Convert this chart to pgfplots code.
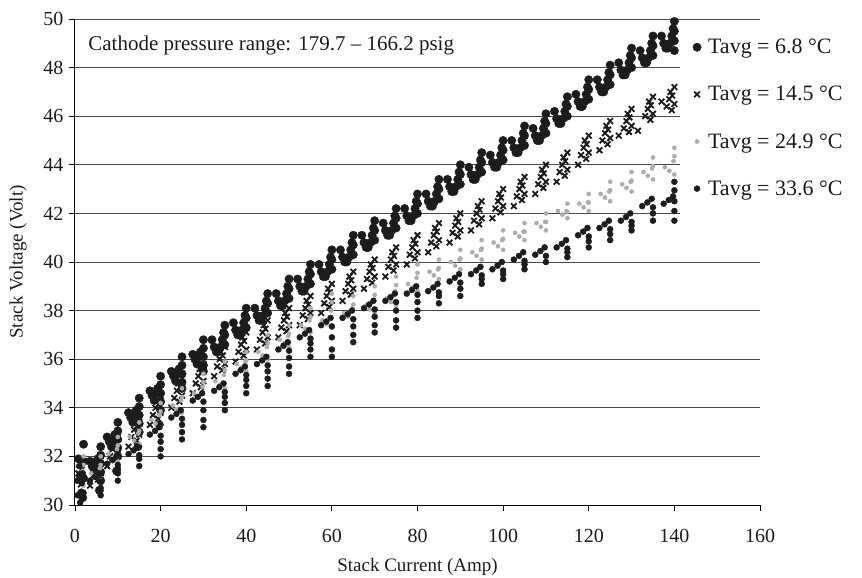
\documentclass[border=0pt]{standalone}
\usepackage{fontspec}
\setmainfont{Liberation Serif}
\usepackage{pgfplots}
\pgfplotsset{compat=1.18}
\definecolor{ink}{HTML}{1C1C1C}
\definecolor{lgray}{HTML}{ADADAD}
\definecolor{gridc}{HTML}{4A4A4A}
\begin{document}
\begin{tikzpicture}
\begin{axis}[
  at={(0,0)}, anchor=south west,
  scale only axis, width=685pt, height=486pt,
  xmin=0, xmax=160, ymin=30, ymax=50,
  xtick={0,20,...,160}, ytick={30,32,...,50},
  axis lines=left, axis line style={-, black, line width=1pt},
  tick align=outside, major tick length=6pt, tick style={black, line width=0.9pt},
  ymajorgrids, grid style={gridc, line width=0.9pt},
  /pgf/number format/assume math mode=true,
  tick label style={font=\fontsize{20}{24}\selectfont, text=ink},
  xticklabel style={yshift=-15pt},
  yticklabel style={xshift=-2pt},
  xlabel={Stack Current (Amp)}, ylabel={Stack Voltage (Volt)},
  every axis x label/.style={at={(axis description cs:0.5,0)}, anchor=center, yshift=-62pt, font=\fontsize{19}{23}\selectfont, text=ink},
  every axis y label/.style={at={(axis description cs:-0.083,0.5)}, anchor=center, rotate=90, font=\fontsize{19}{23}\selectfont, text=ink},
  legend style={at={(0.883,0.998)}, anchor=north west, draw=none, fill=white, inner xsep=6pt, inner ysep=17pt, font=\fontsize{22}{26}\selectfont, row sep=27pt, cells={anchor=west}, text=ink},
  legend image code/.code={\path[draw=none, fill=none] (0pt,-1pt) rectangle (20pt,1pt); \draw[#1] plot coordinates {(11pt,0pt)};},
]
% Tavg = 6.8 C
\addplot[only marks, mark=*, mark size=4.2pt, color=ink] coordinates {
(0.8,31.9)(1.2,31.2)(1.5,30.5)(2,32.5)(2,31.8)(2,31.1)(1.8,30.3)
(3.5,31.8)(4.5,31.4)(5.3,31.9)(6,32.4)(6,31.7)(6,31.0)(5.7,30.6)
(4,31.6)(5,31.7)(6,32.05)(6,31.35)
(7.5,32.8)(8.5,32.4)(9.3,32.9)(10,33.4)(10,32.7)(10,32.0)(9.7,31.4)
(8,32.6)(9,32.7)(10,33.05)(10,32.35)
(12.5,33.8)(13.5,33.4)(14.3,33.9)(15,34.4)(15,33.7)(15,33.0)(14.7,32.4)
(13,33.6)(14,33.7)(15,34.05)(15,33.35)
(17.5,34.7)(18.5,34.3)(19.3,34.8)(20,35.3)(20,34.6)(20,33.9)(19.7,33.3)
(18,34.5)(19,34.6)(20,34.95)(20,34.25)
(22.5,35.5)(23.5,35.1)(24.3,35.6)(25,36.1)(25,35.4)(25,34.8)
(23,35.3)(24,35.4)(25,35.75)(25,35.05)
(27.5,36.2)(28.5,35.8)(29.3,36.3)(30,36.8)(30,36.1)(30,35.5)
(28,36.0)(29,36.1)(30,36.45)(30,35.75)
(32,36.8)(33,36.3)(34,36.5)(34.7,37.1)(35,37.4)(35,36.6)
(32.5,36.5)(33.5,36.3)(34.4,36.8)(35,37.0)
(37,37.5)(38,37.0)(39,37.2)(39.7,37.8)(40,38.1)(40,37.3)
(37.5,37.2)(38.5,37.0)(39.4,37.5)(40,37.7)
(42,38.1)(43,37.6)(44,37.8)(44.7,38.4)(45,38.7)(45,37.9)
(42.5,37.8)(43.5,37.6)(44.4,38.1)(45,38.3)
(47,38.7)(48,38.2)(49,38.4)(49.7,39.0)(50,39.3)(50,38.5)
(47.5,38.4)(48.5,38.2)(49.4,38.7)(50,38.9)
(52,39.3)(53,38.8)(54,39.0)(54.7,39.6)(55,39.9)(55,39.1)
(52.5,39.0)(53.5,38.8)(54.4,39.3)(55,39.5)
(57,39.9)(58,39.4)(59,39.6)(59.7,40.2)(60,40.5)(60,39.7)
(57.5,39.6)(58.5,39.4)(59.4,39.9)(60,40.1)
(62,40.5)(63,40.0)(64,40.2)(64.7,40.8)(65,41.1)(65,40.3)
(62.5,40.2)(63.5,40.0)(64.4,40.5)(65,40.7)
(67,41.1)(68,40.6)(69,40.8)(69.7,41.4)(70,41.7)(70,40.9)
(67.5,40.8)(68.5,40.6)(69.4,41.1)(70,41.3)
(72,41.6)(73,41.1)(74,41.3)(74.7,41.9)(75,42.2)(75,41.4)
(72.5,41.3)(73.5,41.1)(74.4,41.6)(75,41.8)
(77,42.2)(78,41.7)(79,41.9)(79.7,42.5)(80,42.8)(80,42.0)
(77.5,41.9)(78.5,41.7)(79.4,42.2)(80,42.4)
(82,42.8)(83,42.3)(84,42.5)(84.7,43.1)(85,43.4)(85,42.6)
(82.5,42.5)(83.5,42.3)(84.4,42.8)(85,43.0)
(87,43.4)(88,42.9)(89,43.1)(89.7,43.7)(90,44.0)(90,43.2)
(87.5,43.1)(88.5,42.9)(89.4,43.4)(90,43.6)
(92,43.9)(93,43.4)(94,43.6)(94.7,44.2)(95,44.5)(95,43.7)
(92.5,43.6)(93.5,43.4)(94.4,43.9)(95,44.1)
(97,44.4)(98,43.9)(99,44.1)(99.7,44.7)(100,45.0)(100,44.2)
(97.5,44.1)(98.5,43.9)(99.4,44.4)(100,44.6)
(102,45.0)(103,44.5)(104,44.7)(104.7,45.3)(105,45.6)(105,44.8)
(102.5,44.7)(103.5,44.5)(104.4,45.0)(105,45.2)
(107,45.5)(108,45.0)(109,45.2)(109.7,45.8)(110,46.1)(110,45.3)
(107.5,45.2)(108.5,45.0)(109.4,45.5)(110,45.7)
(112,46.2)(113,45.7)(114,45.9)(114.7,46.5)(115,46.8)(115,46.0)
(112.5,45.9)(113.5,45.7)(114.4,46.2)(115,46.4)
(117,46.9)(118,46.4)(119,46.6)(119.7,47.2)(120,47.5)(120,46.7)
(117.5,46.6)(118.5,46.4)(119.4,46.9)(120,47.1)
(122,47.5)(123,47.0)(124,47.2)(124.7,47.8)(125,48.1)(125,47.3)
(122.5,47.2)(123.5,47.0)(124.4,47.5)(125,47.7)
(127,48.2)(128,47.7)(129,47.9)(129.7,48.5)(130,48.8)(130,48.0)
(127.5,47.9)(128.5,47.7)(129.4,48.2)(130,48.4)
(132,48.7)(133,48.2)(134,48.4)(134.7,49.0)(135,49.3)(135,48.5)
(132.5,48.4)(133.5,48.2)(134.4,48.7)(135,48.9)
(137,49.3)(138,48.8)(139,49.0)(139.7,49.6)(140,49.9)(140,49.1)(140,48.7)
(137.5,49.0)(138.5,48.8)(139.4,49.3)(140,49.5)
};
\addlegendentry{Tavg = 6.8 °C}
% Tavg = 14.5 C
\addplot[only marks, mark=x, mark size=4pt, color=ink, mark options={line width=1.8pt}] coordinates {
(2,31.8)(1.5,31.45)(2,31.1)(0.8,31.3)(1.4,30.85)
(6,32.0)(5.5,31.65)(6,31.3)(4.8,31.5)(5.4,31.05)(3.5,30.8)(4.2,31.2)(5.1,31.8)
(10,32.8)(9.5,32.45)(10,32.1)(8.8,32.3)(9.4,31.85)(7.5,31.6)(8.2,32.0)(9.1,32.6)
(15,33.6)(14.5,33.25)(15,32.9)(13.8,33.1)(14.4,32.65)(12.5,32.4)(13.2,32.8)(14.1,33.4)
(20,34.5)(19.5,34.15)(20,33.8)(18.8,34.0)(19.4,33.55)(17.5,33.3)(18.2,33.7)(19.1,34.3)
(25,35.2)(24.5,34.85)(25,34.5)(23.8,34.7)(24.4,34.25)(22.5,34.0)(23.2,34.4)(24.1,35.0)
(30,35.8)(29.5,35.45)(30,35.1)(28.8,35.3)(29.4,34.85)(27.5,34.6)(28.2,35.0)(29.1,35.6)
(35,36.5)(34.5,36.15)(35,35.8)(33.8,36.0)(34.4,35.55)(32.5,35.3)(33.2,35.7)(34.1,36.3)
(40,37.1)(39.5,36.75)(40,36.4)(38.8,36.6)(39.4,36.15)(37.5,35.9)(38.2,36.3)(39.1,36.9)
(45,37.6)(44.5,37.25)(45,36.9)(43.8,37.1)(44.4,36.65)(42.5,36.4)(43.2,36.8)(44.1,37.4)
(50,38.1)(49.5,37.75)(50,37.4)(48.8,37.6)(49.4,37.15)(47.5,36.9)(48.2,37.3)(49.1,37.9)
(55,38.6)(54.5,38.25)(55,37.9)(53.8,38.1)(54.4,37.65)(52.5,37.4)(53.2,37.8)(54.1,38.4)
(60,39.1)(59.5,38.75)(60,38.4)(58.8,38.6)(59.4,38.15)(57.5,37.9)(58.2,38.3)(59.1,38.9)
(65,39.6)(64.5,39.25)(65,38.9)(63.8,39.1)(64.4,38.65)(62.5,38.4)(63.2,38.8)(64.1,39.4)
(70,40.1)(69.5,39.75)(70,39.4)(68.8,39.6)(69.4,39.15)(67.5,38.9)(68.2,39.3)(69.1,39.9)
(75,40.6)(74.5,40.25)(75,39.9)(73.8,40.1)(74.4,39.65)(72.5,39.4)(73.2,39.8)(74.1,40.4)
(80,41.1)(79.5,40.75)(80,40.4)(78.8,40.6)(79.4,40.15)(77.5,39.9)(78.2,40.3)(79.1,40.9)
(85,41.6)(84.5,41.25)(85,40.9)(83.8,41.1)(84.4,40.65)(82.5,40.4)(83.2,40.8)(84.1,41.4)
(90,42.0)(89.5,41.65)(90,41.3)(88.8,41.5)(89.4,41.05)(87.5,40.8)(88.2,41.2)(89.1,41.8)
(95,42.5)(94.5,42.15)(95,41.8)(93.8,42.0)(94.4,41.55)(92.5,41.3)(93.2,41.7)(94.1,42.3)
(100,43.0)(99.5,42.65)(100,42.3)(98.8,42.5)(99.4,42.05)(97.5,41.8)(98.2,42.2)(99.1,42.8)
(105,43.5)(104.5,43.15)(105,42.8)(103.8,43.0)(104.4,42.55)(102.5,42.3)(103.2,42.7)(104.1,43.3)
(110,44.0)(109.5,43.65)(110,43.3)(108.8,43.5)(109.4,43.05)(107.5,42.8)(108.2,43.2)(109.1,43.8)
(115,44.5)(114.5,44.15)(115,43.8)(113.8,44.0)(114.4,43.55)(112.5,43.3)(113.2,43.7)(114.1,44.3)
(120,45.2)(119.5,44.85)(120,44.5)(118.8,44.7)(119.4,44.25)(117.5,44.0)(118.2,44.4)(119.1,45.0)
(125,45.8)(124.5,45.45)(125,45.1)(123.8,45.3)(124.4,44.85)(122.5,44.6)(123.2,45.0)(124.1,45.6)
(130,46.3)(129.5,45.95)(130,45.6)(128.8,45.8)(129.4,45.35)(127,45.2)(128.2,45.5)(129.1,46.1)
(135,46.8)(134.5,46.45)(135,46.1)(133.8,46.3)(134.4,45.85)(131.5,45.4)(133.2,46.0)(134.1,46.6)
(140,47.2)(139.5,46.85)(140,46.5)(138.8,46.7)(139.4,46.25)(137,46.6)(138.2,46.4)(139.1,47.0)
};
\addlegendentry{Tavg = 14.5 °C}
% Tavg = 24.9 C
\addplot[only marks, mark=*, mark size=2.1pt, color=lgray] coordinates {
(2,32.0)(2,31.65)(1.8,31.4)(2,30.8)(1.0,30.95)(0.6,31.6)
(6,32.0)(6,31.65)(5.8,31.5)(6,31.0)(4.8,31.15)(3.8,31.3)
(10,32.8)(10,32.45)(9.8,32.3)(10,31.8)(8.8,31.95)(7.8,32.1)
(15,33.4)(15,33.05)(14.8,32.95)(15,32.5)(13.8,32.65)(12.8,32.8)
(20,34.2)(20,33.85)(19.8,33.7)(20,33.2)(18.8,33.35)(17.8,33.5)
(25,34.8)(25,34.45)(24.8,34.3)(25,33.8)(23.8,33.95)(22.8,34.1)
(30,35.4)(30,35.05)(29.8,34.85)(30,34.3)(28.8,34.45)(27.8,34.6)
(35,35.9)(35,35.55)(34.8,35.35)(35,34.8)(33.8,34.95)(32.8,35.1)
(40,36.3)(40,35.95)(39.8,35.9)(40,35.5)(38.8,35.65)(37.8,35.8)
(45,37.0)(45,36.65)(44.8,36.5)(45,36.0)(43.8,36.15)(42.8,36.3)
(50,37.4)(50,37.05)(49.8,36.95)(50,36.5)(48.8,36.65)(47.8,36.8)
(55,38.1)(55,37.75)(54.8,37.6)(55,37.1)(53.8,37.25)(52.8,37.4)
(60,38.7)(60,38.35)(59.8,38.0)(60,37.3)(58.8,37.45)(57.8,37.6)
(65,38.6)(65,38.25)(64.8,38.1)(65,37.6)(63.8,37.75)(62.8,37.9)
(70,39.0)(70,38.65)(69.8,38.45)(70,37.9)(68.8,38.05)(67.8,38.2)
(75,39.4)(75,39.05)(74.8,38.8)(75,38.2)(73.8,38.35)(72.8,38.5)
(80,39.9)(80,39.55)(79.8,39.35)(80,38.8)(78.8,38.95)(77.8,39.1)
(85,40.1)(85,39.75)(84.8,39.7)(85,39.3)(83.8,39.45)(82.8,39.6)
(90,40.5)(90,40.15)(89.8,40.1)(90,39.7)(88.8,39.85)(87.8,40.0)
(95,40.9)(95,40.55)(94.8,40.5)(95,40.1)(93.8,40.25)(92.8,40.4)
(100,41.3)(100,40.95)(99.8,40.9)(100,40.5)(98.8,40.65)(97.8,40.8)
(105,41.6)(105,41.25)(104.8,41.25)(105,40.9)(103.8,41.05)(102.8,41.2)
(110,42.0)(110,41.65)(109.8,41.65)(110,41.3)(108.8,41.45)(107.8,41.6)
(115,42.4)(115,42.05)(114.8,42.1)(115,41.8)(113.8,41.95)(112.8,42.1)
(120,42.8)(120,42.45)(119.8,42.45)(120,42.1)(118.8,42.25)(117.8,42.4)
(125,43.3)(125,42.95)(124.8,42.9)(125,42.5)(123.8,42.65)(122.8,42.8)
(130,43.7)(130,43.35)(129.8,43.3)(130,42.9)(128.8,43.05)(127.8,43.2)
(135,44.3)(135,43.95)(134.8,43.85)(135,43.4)(133.8,43.55)(132.8,43.7)
(140,44.7)(140,44.35)(139.8,44.15)(140,43.6)(138.8,43.75)(137.8,43.9)
};
\addlegendentry{Tavg = 24.9 °C}
% Tavg = 33.6 C
\addplot[only marks, mark=*, mark size=3pt, color=ink] coordinates {
(0.5,31.0)(1.0,31.6)(1.6,30.9)(2,30.5)(1.2,30.1)(0.6,30.4)(1.8,31.3)
(3.5,31.0)(4.7,31.15)(5.7,31.3)(6,30.95)(6,30.7)(6,30.4)
(7.5,31.7)(8.7,31.85)(9.7,32.0)(10,31.65)(10,31.5)(10,31.3)(10,31.0)
(12.5,32.1)(13.7,32.25)(14.7,32.4)(15,32.05)(15,31.9)(15,31.6)
(17.5,32.9)(18.7,33.05)(19.7,33.2)(20,32.85)(20,32.6)(20,32.3)(20,32.0)
(22.5,33.6)(23.7,33.75)(24.7,33.9)(25,33.55)(25,33.3)(25,33.0)(25,32.7)
(27.5,34.3)(28.7,34.45)(29.7,34.6)(30,34.25)(30,33.9)(30,33.5)(30,33.2)
(32.5,34.7)(33.7,34.85)(34.7,35.0)(35,34.65)(35,34.45)(35,34.2)(35,33.9)
(37.5,35.4)(38.7,35.55)(39.7,35.7)(40,35.35)(40,35.15)(40,34.9)(40,34.6)
(42.5,35.8)(43.7,35.95)(44.7,36.1)(45,35.75)(45,35.5)(45,35.2)(45,34.9)
(47.5,36.4)(48.7,36.55)(49.7,36.7)(50,36.35)(50,36.05)(50,35.7)(50,35.4)
(52.5,36.9)(53.7,37.05)(54.7,37.2)(55,36.85)(55,36.65)(55,36.4)(55,36.1)
(57.5,37.4)(58.7,37.55)(59.7,37.7)(60,37.35)(60,36.9)(60,36.4)(60,36.1)
(62.5,37.7)(63.7,37.85)(64.7,38.0)(65,37.65)(65,37.35)(65,37.0)(65,36.7)
(67.5,38.1)(68.7,38.25)(69.7,38.4)(70,38.05)(70,37.75)(70,37.4)(70,37.1)
(72.5,38.4)(73.7,38.55)(74.7,38.7)(75,38.35)(75,38.0)(75,37.6)(75,37.3)
(77.5,38.7)(78.7,38.85)(79.7,39.0)(80,38.65)(80,38.35)(80,38.0)(80,37.7)
(82.5,38.8)(83.7,38.95)(84.7,39.1)(85,38.75)(85,38.6)(85,38.3)
(87.5,39.2)(88.7,39.35)(89.7,39.5)(90,39.15)(90,38.9)(90,38.6)
(92.5,39.5)(93.7,39.65)(94.7,39.8)(95,39.45)(95,39.3)(95,39.1)
(97.5,39.7)(98.7,39.85)(99.7,40.0)(100,39.65)(100,39.5)(100,39.3)
(102.5,40.1)(103.7,40.25)(104.7,40.4)(105,40.05)(105,39.9)(105,39.7)
(107.5,40.3)(108.7,40.45)(109.7,40.6)(110,40.25)(110,40.0)
(112.5,40.6)(113.7,40.75)(114.7,40.9)(115,40.55)(115,40.4)(115,40.2)
(117.5,41.1)(118.7,41.25)(119.7,41.4)(120,41.05)(120,40.85)(120,40.6)
(122.5,41.4)(123.7,41.55)(124.7,41.7)(125,41.35)(125,41.15)(125,40.9)
(127.5,41.7)(128.7,41.85)(129.7,42.0)(130,41.65)(130,41.5)(130,41.3)
(132.5,42.3)(133.7,42.45)(134.7,42.6)(135,42.25)(135,42.0)(135,41.7)
(137.5,42.4)(138.7,42.55)(139.7,42.7)(140,43.3)(140,42.95)(140,42.5)(140,42.1)(140,41.7)
};
\addlegendentry{Tavg = 33.6 °C}
\node[anchor=west, font=\fontsize{21}{25}\selectfont, text=ink] at (axis cs:2.3,48.93) {Cathode pressure range: 179.7 – 166.2 psig};
\end{axis}
\pgfresetboundingbox
\path[use as bounding box] (-75pt,-73pt) rectangle (787pt,505pt);
\end{tikzpicture}
\end{document}
